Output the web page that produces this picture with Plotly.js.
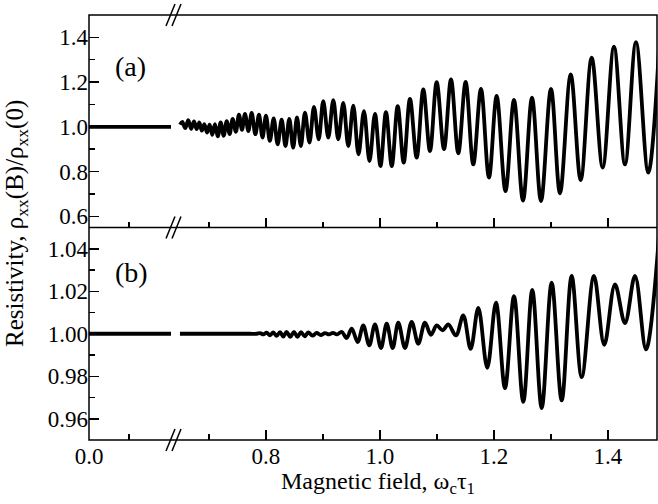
<!DOCTYPE html>
<html>
<head>
<meta charset="utf-8">
<script src="https://cdn.plot.ly/plotly-3.0.1.min.js"></script>
<style>html,body{margin:0;padding:0;background:#fff;}#chart{width:658px;height:504px;}</style>
</head>
<body>
<div id="chart"></div>
<script>
// Left (low-field) segment, both panels flat at 1
const lowX = [0.0, 0.205];
const lowA = [1.0, 1.0];
const lowB = [1.0, 1.0];

// Panel (a): extrema
const aX = [0.6491,0.6532,0.6584,0.6637,0.6688,0.6737,0.6784,0.6830,0.6874,0.6918,0.6965,0.7012,0.7058,0.7105,0.7156,0.7205,0.7258,0.7311,0.7363,0.7416,0.7472,0.7526,0.7579,0.7632,0.7691,0.7749,0.7814,0.7877,0.7939,0.8000,0.8068,0.8135,0.8205,0.8275,0.8342,0.8409,0.8477,0.8544,0.8612,0.8684,0.8763,0.8842,0.8925,0.9005,0.9093,0.9181,0.9268,0.9356,0.9444,0.9532,0.9623,0.9719,0.9816,0.9912,1.0009,1.0105,1.0207,1.0311,1.0416,1.0526,1.0644,1.0760,1.0877,1.0995,1.1123,1.1246,1.1374,1.1503,1.1637,1.1772,1.1912,1.2047,1.2202,1.2351,1.2509,1.2667,1.2825,1.3000,1.3158,1.3346,1.3521,1.3714,1.3907,1.4105,1.4298,1.4491,1.4707,1.4910];
const aY = [1.010,1.022,0.994,1.030,0.991,1.024,0.990,1.020,0.983,1.012,0.974,1.010,0.964,1.012,0.958,1.020,0.960,1.025,0.968,1.036,0.978,1.055,0.986,1.058,0.981,1.062,0.967,1.054,0.952,1.050,0.937,1.038,0.922,1.032,0.914,1.036,0.907,1.042,0.914,1.063,0.930,1.089,0.944,1.115,0.952,1.119,0.944,1.107,0.914,1.095,0.877,1.070,0.847,1.058,0.825,1.066,0.825,1.093,0.840,1.125,0.862,1.167,0.892,1.200,0.900,1.212,0.882,1.201,0.832,1.170,0.773,1.138,0.713,1.120,0.670,1.130,0.668,1.170,0.703,1.234,0.762,1.309,0.818,1.358,0.832,1.379,0.795,1.420];

// Panel (b): extrema
const bX = [0.6491,0.7193,0.7719,0.7837,0.7895,0.7953,0.8012,0.8070,0.8128,0.8188,0.8246,0.8304,0.8363,0.8426,0.8491,0.8553,0.8614,0.8679,0.8742,0.8816,0.8889,0.8961,0.9035,0.9105,0.9175,0.9246,0.9328,0.9416,0.9504,0.9609,0.9707,0.9812,0.9912,1.0018,1.0118,1.0223,1.0321,1.0439,1.0556,1.0672,1.0789,1.0895,1.0995,1.1100,1.1198,1.1333,1.1461,1.1591,1.1725,1.1882,1.2035,1.2193,1.2351,1.2514,1.2672,1.2837,1.3012,1.3188,1.3363,1.3539,1.3754,1.3935,1.4123,1.4298,1.4474,1.4667,1.4900];
const bY = [1.0000,1.0000,1.0000,1.0000,1.0003,0.9997,1.0005,0.9993,1.0006,0.9990,1.0008,0.9987,1.0009,0.9985,1.0009,0.9985,1.0008,0.9988,1.0006,0.9991,1.0004,0.9994,1.0003,0.9997,1.0004,0.9997,1.0009,0.9980,1.0024,0.9961,1.0039,0.9945,1.0044,0.9933,1.0047,0.9933,1.0052,0.9933,1.0056,0.9953,1.0052,0.9995,1.0039,1.0016,1.0044,0.9992,1.0086,0.9929,1.0122,0.9840,1.0146,0.9744,1.0177,0.9679,1.0206,0.9650,1.0240,0.9686,1.0272,0.9796,1.0272,0.9948,1.0232,1.0050,1.0272,0.9926,1.0480];

const xTickMajor = [0.8, 1.0, 1.2, 1.4];
const xTickLabels = ['0.8', '1.0', '1.2', '1.4'];
const xTickMinor = [0.7, 0.9, 1.1, 1.3];
const lowTickMajor = [0.0];
const lowTickLabels = ['0.0'];
const lowTickMinor = [0.1];

const FONT = 'Liberation Serif, Times New Roman, serif';
const D = 86 / 568; // break position in paper units
const lineStyle = {color: '#000', width: 3.8, shape: 'spline', smoothing: 1};

const traces = [
  {x: lowX, y: lowA, xaxis: 'x3', yaxis: 'y2', mode: 'lines', line: {color: '#000', width: 3.8}},
  {x: aX, y: aY, xaxis: 'x4', yaxis: 'y2', mode: 'lines', line: lineStyle},
  {x: lowX, y: lowB, xaxis: 'x', yaxis: 'y', mode: 'lines', line: {color: '#000', width: 3.8}},
  {x: bX, y: bY, xaxis: 'x2', yaxis: 'y', mode: 'lines', line: lineStyle}
];

const tickFont = {family: FONT, size: 23, color: '#000'};
function xax(domain, range, major, labels, minor, anchor, showLabels) {
  return {
    domain: domain, range: range, anchor: anchor,
    tickmode: 'array', tickvals: major, ticktext: labels,
    showticklabels: showLabels, ticks: 'inside', ticklen: 10, tickwidth: 1.5, tickcolor: '#000',
    minor: {tickmode: 'array', tickvals: minor, ticks: 'inside', ticklen: 6, tickwidth: 1.5, tickcolor: '#000'},
    showgrid: false, zeroline: false, showline: false, tickfont: tickFont
  };
}
function yax(domain, range, dt, mdt, anchor, fmt) {
  return {
    domain: domain, range: range, anchor: anchor,
    tickmode: 'linear', tick0: 0, dtick: dt, tickformat: fmt,
    ticks: 'inside', ticklen: 10, tickwidth: 1.5, tickcolor: '#000',
    minor: {dtick: mdt, tick0: 0, ticks: 'inside', ticklen: 6, tickwidth: 1.5, tickcolor: '#000'},
    showgrid: false, zeroline: false, showline: false, tickfont: tickFont
  };
}

function brk(yp) {
  return [
    {type: 'line', xref: 'paper', yref: 'paper', xsizemode: 'pixel', ysizemode: 'pixel', xanchor: D, yanchor: yp,
     x0: -9, x1: 0, y0: -11, y1: 11, line: {color: '#000', width: 1.5}},
    {type: 'line', xref: 'paper', yref: 'paper', xsizemode: 'pixel', ysizemode: 'pixel', xanchor: D, yanchor: yp,
     x0: -3, x1: 6, y0: -11, y1: 11, line: {color: '#000', width: 1.5}}
  ];
}

const shapes = [
  {type: 'rect', xref: 'paper', yref: 'paper', x0: 0, x1: 1, y0: 0, y1: 1, line: {color: '#000', width: 1.5}},
  {type: 'line', xref: 'paper', yref: 'paper', x0: 0, x1: 1, y0: 0.5, y1: 0.5, line: {color: '#000', width: 1.5}}
].concat(brk(1), brk(0.5), brk(0));

const layout = {
  width: 658, height: 504,
  margin: {l: 89, r: 1, t: 15, b: 64},
  paper_bgcolor: '#fff', plot_bgcolor: 'rgba(0,0,0,0)',
  showlegend: false,
  font: {family: FONT, color: '#000'},
  xaxis: xax([0, D], [0, 0.215], lowTickMajor, lowTickLabels, lowTickMinor, 'y', true),
  xaxis2: xax([D, 1], [0.6404, 1.486], xTickMajor, xTickLabels, xTickMinor, 'y', true),
  xaxis3: xax([0, D], [0, 0.215], lowTickMajor, lowTickLabels, lowTickMinor, 'y2', false),
  xaxis4: xax([D, 1], [0.6404, 1.486], xTickMajor, xTickLabels, xTickMinor, 'y2', false),
  yaxis: yax([0, 0.5], [0.95, 1.05], 0.02, 0.01, 'x', '.2f'),
  yaxis2: yax([0.5, 1], [0.55, 1.5], 0.2, 0.1, 'x3', '.1f'),
  shapes: shapes,
  annotations: [
    {text: '(a)', xref: 'paper', yref: 'paper', x: 0.043, y: 0.88, xanchor: 'left', yanchor: 'middle', showarrow: false, font: {family: FONT, size: 28, color: '#000'}},
    {text: '(b)', xref: 'paper', yref: 'paper', x: 0.043, y: 0.393, xanchor: 'left', yanchor: 'middle', showarrow: false, font: {family: FONT, size: 28, color: '#000'}},
    {text: 'Magnetic field, ω<sub>c</sub>τ<sub>1</sub>', xref: 'paper', yref: 'paper', x: 0.509, y: -0.1, xanchor: 'center', yanchor: 'middle', showarrow: false, font: {family: FONT, size: 24, color: '#000'}},
    {text: 'Resistivity, ρ<sub>xx</sub>(B)/ρ<sub>xx</sub>(0)', xref: 'paper', yref: 'paper', x: -0.128, y: 0.509, xanchor: 'center', yanchor: 'middle', textangle: -90, showarrow: false, font: {family: FONT, size: 25, color: '#000'}}
  ]
};

Plotly.newPlot('chart', traces, layout, {displayModeBar: false, staticPlot: true});
</script>
</body>
</html>
